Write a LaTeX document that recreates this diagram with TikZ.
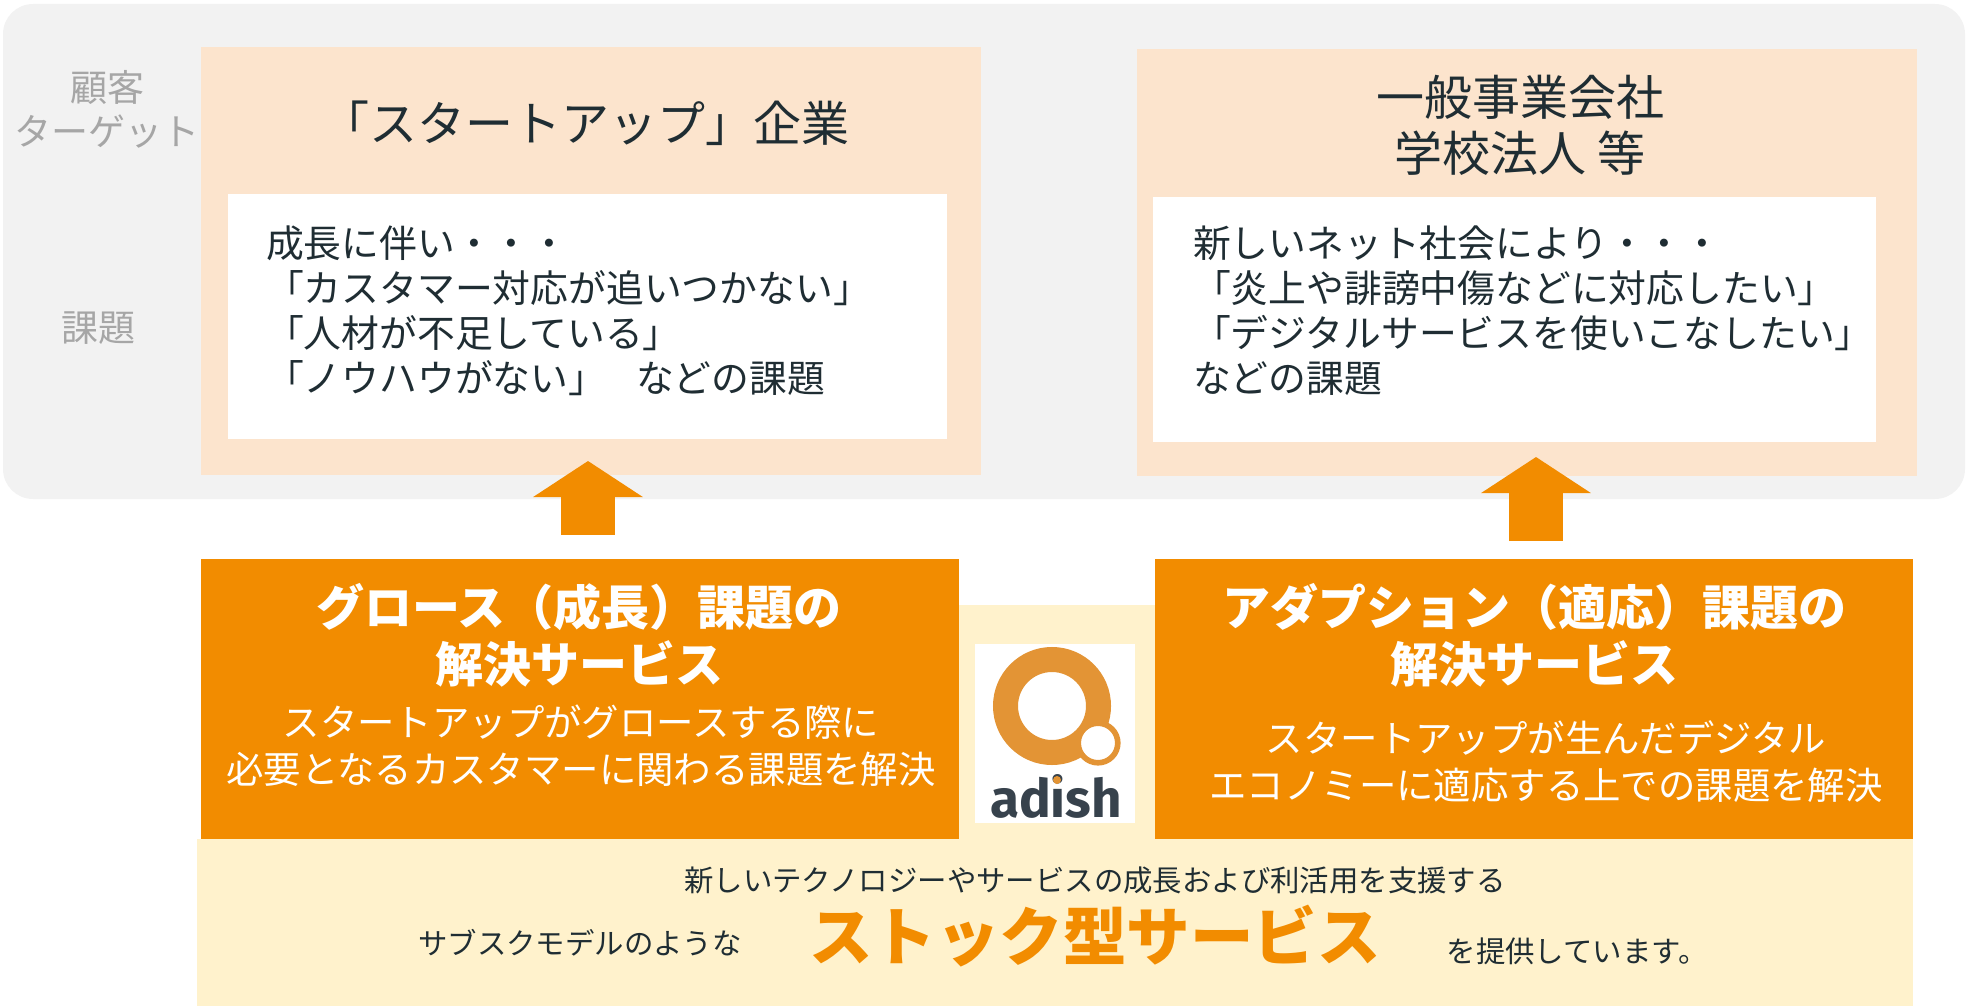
\documentclass[tikz,border=0pt]{standalone}
\usepackage{fontspec}
\setmainfont{Noto Sans CJK JP}
\newfontfamily\logofont{Fira Sans}
\usetikzlibrary{arrows.meta}

\definecolor{panelgray}{HTML}{F2F2F2}
\definecolor{peach}{HTML}{FCE4CD}
\definecolor{brandorange}{HTML}{F28C00}
\definecolor{cream}{HTML}{FFF2CC}
\definecolor{inkdark}{HTML}{1F2D33}
\definecolor{labelgray}{HTML}{A6A6A6}
\definecolor{logoorange}{HTML}{E39435}
\definecolor{logoslate}{HTML}{37424C}

\newcommand{\fs}[2]{\fontsize{#1}{#2}\selectfont}

\begin{document}
\begin{tikzpicture}[x=1pt, y=-1pt]

\tikzstyle{every node} = [rectangle, inner sep=0pt, outer sep=0pt, text=inkdark]
\tikzstyle{sidelabel} = [text=labelgray, font=\fs{37}{44}]
\tikzstyle{bodytext} = [align=left, anchor=west, font=\fs{37.8}{45}]
\tikzstyle{titletext} = [align=center, font=\fs{48}{56}]
\tikzstyle{headtext} = [align=center, text=white, font=\bfseries\fs{48}{57}]
\tikzstyle{subtext} = [align=center, text=white, font=\fs{37.4}{47}]
\tikzstyle{stocktext} = [font=\fs{29.4}{35}]
\tikzstyle{blockarrow} = [draw=brandorange, line width=54pt, -{Triangle[length=36pt,width=108pt,fill=brandorange]}]

\useasboundingbox (0,0) rectangle (1970,1008);

% upper panel
\node[fill=panelgray, rounded corners=30pt, minimum width=1962pt, minimum height=495pt] (panel) at (984,251.5) {};
\node[sidelabel] (target1) at (107,87) {顧客};
\node[sidelabel] (target2) at (107,132) {ターゲット};
\node[sidelabel] (issue) at (98,328) {課題};

\node[fill=peach, minimum width=780pt, minimum height=428pt] (startup) at (591,261) {};
\node[fill=white, minimum width=719pt, minimum height=245pt] (startupissue) at (587.5,316.5) {};
\node[fill=peach, minimum width=780pt, minimum height=427pt] (general) at (1527,262.5) {};
\node[fill=white, minimum width=723pt, minimum height=245pt] (generalissue) at (1514.5,319.5) {};

\node[titletext] (startuptitle) at (585,123) {「スタートアップ」企業};
\node[titletext] (generaltitle) at (1520,125) {一般事業会社\\学校法人 等};

\node[bodytext] (startuptext) at (266,311) {成長に伴い・・・\\「カスタマー対応が追いつかない」\\「人材が不足している」\\「ノウハウがない」\hspace{30pt}などの課題};
\node[bodytext] (generaltext) at (1193,311) {新しいネット社会により・・・\\「炎上や誹謗中傷などに対応したい」\\「デジタルサービスを使いこなしたい」\\などの課題};

% lower services
\node[fill=cream, minimum width=196pt, minimum height=234pt] (band) at (1057,722) {};
\node[fill=cream, minimum width=1716pt, minimum height=167pt] (stock) at (1055,922.5) {};
\node[fill=brandorange, minimum width=758pt, minimum height=280pt] (growth) at (580,699) {};
\node[fill=brandorange, minimum width=758pt, minimum height=280pt] (adapt) at (1534,699) {};

\node[headtext] (growthhead) at (579,635) {グロース（成長）課題の\\解決サービス};
\node[subtext] (growthsub) at (581,746) {スタートアップがグロースする際に\\必要となるカスタマーに関わる課題を解決};
\node[headtext] (adapthead) at (1534,635) {アダプション（適応）課題の\\解決サービス};
\node[subtext] (adaptsub) at (1546,762) {スタートアップが生んだデジタル\\エコノミーに適応する上での課題を解決};

\node[stocktext] (stockline) at (1095,880) {新しいテクノロジーやサービスの成長および利活用を支援する};
\node[stocktext] (stockleft) at (580,943) {サブスクモデルのような};
\node[text=brandorange, font=\bfseries\fs{63.5}{70}] (stockname) at (1095,936) {ストック型サービス};
\node[stocktext] (stockright) at (1577,951) {を提供しています。};

% logo
\node[fill=white, minimum width=160pt, minimum height=179pt] (logo) at (1055,733.5) {};
\node[circle, draw=logoorange, line width=25pt, fill=white, minimum size=93pt] (logoring) at (1052,706) {};
\node[circle, draw=logoorange, line width=5.6pt, fill=white, minimum size=39.6pt] (logodot) at (1098,743) {};
\node[anchor=base, text=logoslate, font=\logofont\bfseries\fs{53}{53}] (logoname) at (1056,817) {adish};
\node[circle, fill=logoorange, minimum size=8pt] (logoidot) at (1057,780) {};

% arrows
\coordinate (growthtail) at (588,535);
\coordinate (startuptip) at (588,461);
\coordinate (adapttail) at (1536,541);
\coordinate (generaltip) at (1536,457);
\draw[blockarrow] (growthtail) -- (startuptip);
\draw[blockarrow] (adapttail) -- (generaltip);
\end{tikzpicture}
\end{document}
